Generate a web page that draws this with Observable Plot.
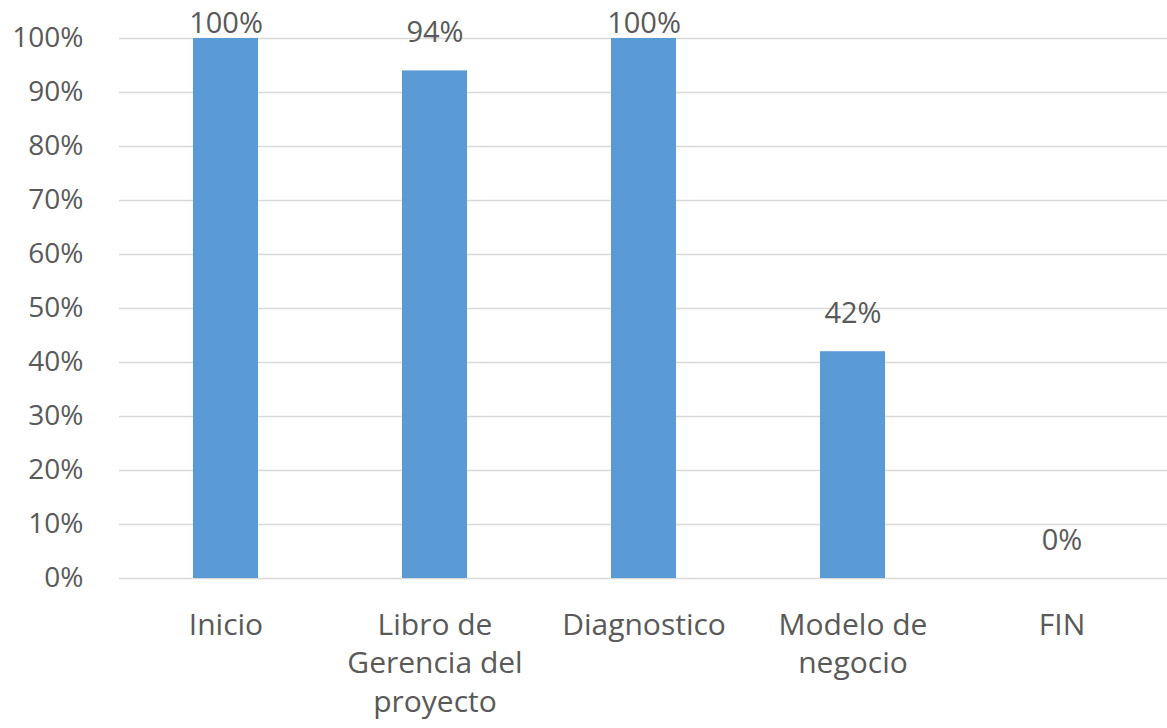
<!DOCTYPE html>
<html>
<head>
<meta charset="utf-8">
<script src="https://cdn.jsdelivr.net/npm/d3@7"></script>
<script src="https://cdn.jsdelivr.net/npm/@observablehq/plot@0.6"></script>
<style>
  html, body { margin: 0; padding: 0; background: #ffffff; }
  #chart svg { display: block; }
</style>
</head>
<body>
<div id="chart"></div>
<script>
const categories = ["Inicio", "Libro de Gerencia del proyecto", "Diagnostico", "Modelo de negocio", "FIN"];
const categoryLabels = ["Inicio", "Libro de\nGerencia del\nproyecto", "Diagnostico", "Modelo de\nnegocio", "FIN"];
const values = [1.00, 0.94, 1.00, 0.42, 0.00];
const valueLabels = ["100%", "94%", "100%", "42%", "0%"];
const yTicks = [0, 0.1, 0.2, 0.3, 0.4, 0.5, 0.6, 0.7, 0.8, 0.9, 1.0];
const yTickLabels = ["0%", "10%", "20%", "30%", "40%", "50%", "60%", "70%", "80%", "90%", "100%"];

const data = categories.map((c, i) => ({category: c, value: values[i], label: valueLabels[i]}));
const labelOf = new Map(categories.map((c, i) => [c, categoryLabels[i]]));
const yLabelOf = new Map(yTicks.map((t, i) => [t, yTickLabels[i]]));

const font = "'Open Sans', sans-serif";
const textColor = "#595959";

const chart = Plot.plot({
  width: 1167,
  height: 728,
  marginLeft: 119,
  marginRight: 0,
  marginTop: 38,
  marginBottom: 150,
  style: {fontFamily: font, color: textColor, background: "#ffffff"},
  x: {domain: categories, padding: 0},
  y: {domain: [0, 1]},
  marks: [
    Plot.ruleY(yTicks, {stroke: "#d9d9d9", strokeWidth: 1.6}),
    Plot.barY(data, {x: "category", y: "value", fill: "#5b9bd5", insetLeft: 72, insetRight: 72}),
    Plot.text(data.filter(d => d.value < 1), {x: "category", y: "value", text: "label", dy: -38, fontSize: 29, fill: textColor, lineAnchor: "middle"}),
    Plot.text(data.filter(d => d.value >= 1), {x: "category", y: "value", text: "label", dy: -15, fontSize: 29, fill: textColor, lineAnchor: "middle"}),
    Plot.axisY(yTicks, {tickSize: 0, tickPadding: 36, fontSize: 28, fill: textColor, tickFormat: t => yLabelOf.get(t), label: null}),
    Plot.axisX({tickSize: 0, tickPadding: 29, fontSize: 30, fill: textColor, lineHeight: 1.28, tickFormat: c => labelOf.get(c), label: null})
  ]
});
document.getElementById("chart").appendChild(chart);
</script>
</body>
</html>
